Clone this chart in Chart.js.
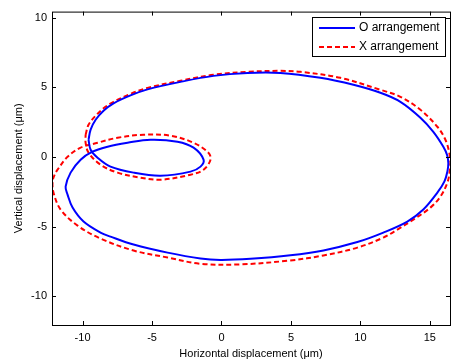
<!DOCTYPE html>
<html>
<head>
<meta charset="utf-8">
<script src="https://cdn.jsdelivr.net/npm/chart.js@4"></script>
<style>
  html, body { margin: 0; padding: 0; background: #fff; }
  #wrap { width: 463px; height: 361px; }
</style>
</head>
<body>
<div id="wrap"><canvas id="orbitChart"></canvas></div>
<script>
// traced orbit points (um), O arrangement
const oX = [-9.57, -9.42, -9.06, -8.49, -7.77, -6.55, -5.32, -2.95, -0.58, 1.87, 4.24, 7.12, 9.50, 11.44, 12.88, 14.32, 15.25, 15.97, 16.24, 16.33, 16.26, 16.05, 15.54, 14.53, 13.38, 11.65, 9.78, 7.34, 4.96, 2.09, -0.07, -1.51, -3.88, -6.33, -7.99, -8.71, -9.93, -10.72, -11.08, -11.22, -10.86, -10.14, -9.28, -8.20, -6.76, -5.11, -3.17, -2.01, -1.29, -1.51, -2.23, -4.39, -6.33, -7.99, -8.92, -9.42, -9.57]
const oY = [1.24, 1.96, 2.67, 3.32, 3.85, 4.42, 4.85, 5.39, 5.82, 6.03, 6.03, 5.68, 5.18, 4.61, 3.96, 2.82, 1.81, 0.74, 0.15, -0.45, -1.05, -1.75, -2.56, -3.77, -4.63, -5.42, -6.10, -6.70, -7.05, -7.30, -7.38, -7.28, -6.86, -6.28, -5.71, -5.42, -4.63, -3.63, -2.70, -2.13, -1.12, -0.19, 0.38, 0.74, 1.02, 1.24, 1.10, 0.67, -0.19, -0.69, -1.05, -1.34, -1.12, -0.69, -0.05, 0.52, 1.24]

// X arrangement
const xX = [-9.78, -9.57, -9.06, -8.35, -7.77, -6.55, -5.32, -2.95, -0.58, 1.87, 4.24, 5.68, 8.56, 11.44, 12.88, 14.32, 15.54, 16.12, 16.40, 16.48, 16.42, 16.26, 15.76, 15.04, 13.81, 12.66, 11.65, 9.78, 7.34, 4.96, 1.37, -1.51, -3.88, -6.33, -8.71, -10.36, -11.58, -12.09, -12.16, -12.01, -11.80, -11.08, -10.14, -8.92, -7.48, -5.61, -3.67, -2.01, -0.94, -0.79, -1.29, -2.23, -4.39, -5.83, -7.48, -8.71, -9.57, -9.78, -9.78]
const xY = [1.60, 2.31, 2.96, 3.60, 3.96, 4.53, 4.96, 5.47, 5.90, 6.11, 6.18, 6.11, 5.68, 4.82, 4.32, 3.39, 2.17, 1.24, 0.31, -0.40, -1.10, -1.84, -2.84, -3.63, -4.49, -5.21, -5.78, -6.50, -7.06, -7.42, -7.70, -7.66, -7.21, -6.71, -5.85, -4.92, -3.77, -2.56, -1.77, -1.27, -0.91, 0.02, 0.67, 1.02, 1.38, 1.60, 1.53, 1.02, 0.31, -0.19, -0.91, -1.27, -1.63, -1.48, -1.12, -0.55, 0.31, 1.02, 1.60]

const seriesNames = ['O arrangement', 'X arrangement']
const xTicks = [-10, -5, 0, 5, 10, 15]
const yTicks = [-10, -5, 0, 5, 10]

const FONT = "'Liberation Sans', Arial, sans-serif"
Chart.defaults.font.family = FONT
Chart.defaults.font.size = 11
Chart.defaults.color = '#000'

const toPoints = (xs, ys) => xs.map((x, i) => ({ x, y: ys[i] }))

// box + inward ticks + legend, matlab look
const matlabFrame = {
    id: 'matlabFrame',
    afterDraw(chart) {
        const { ctx, chartArea: a, scales } = chart
        ctx.save()
        ctx.strokeStyle = '#000'
        ctx.lineWidth = 1
        ctx.strokeRect(a.left + 0.5, a.top + 0.5, a.right - a.left, a.bottom - a.top)
        const t = 4
        ctx.beginPath()
        xTicks.forEach(v => {
            const px = Math.round(scales.x.getPixelForValue(v)) + 0.5
            ctx.moveTo(px, a.bottom); ctx.lineTo(px, a.bottom - t)
            ctx.moveTo(px, a.top); ctx.lineTo(px, a.top + t)
        })
        yTicks.forEach(v => {
            const py = Math.round(scales.y.getPixelForValue(v)) + 0.5
            ctx.moveTo(a.left, py); ctx.lineTo(a.left + t, py)
            ctx.moveTo(a.right, py); ctx.lineTo(a.right - t, py)
        })
        ctx.stroke()

        // legend
        const lx = 312, ly = 17, lw = 133, lh = 39
        ctx.fillStyle = '#fff'
        ctx.fillRect(lx, ly, lw, lh)
        ctx.strokeRect(lx + 0.5, ly + 0.5, lw, lh)
        ctx.font = '12px ' + FONT
        ctx.textBaseline = 'middle'
        chart.data.datasets.forEach((ds, i) => {
            const yy = ly + 11 + i * 19
            ctx.beginPath()
            ctx.strokeStyle = ds.borderColor
            ctx.lineWidth = ds.borderWidth
            ctx.setLineDash(ds.borderDash || [])
            ctx.moveTo(lx + 7, yy); ctx.lineTo(lx + 43, yy)
            ctx.stroke()
            ctx.setLineDash([])
            ctx.fillStyle = '#000'
            ctx.fillText(ds.label, lx + 47, yy)
        })
        ctx.restore()
    }
}

new Chart('orbitChart', {
    type: 'scatter',
    data: {
        datasets: [{
            label: seriesNames[0],
            data: toPoints(oX, oY),
            showLine: true,
            borderColor: '#0000ff',
            borderWidth: 2,
            tension: 0.35,
            pointRadius: 0
        }, {
            label: seriesNames[1],
            data: toPoints(xX, xY),
            showLine: true,
            borderColor: '#ff0000',
            borderWidth: 2,
            borderDash: [5, 3],
            tension: 0.35,
            pointRadius: 0
        }]
    },
    options: {
        responsive: true,
        maintainAspectRatio: false,
        animation: false,
        layout: { padding: { top: 11, right: 13, left: 0, bottom: 0 } },
        plugins: {
            legend: { display: false },
            tooltip: { enabled: false }
        },
        scales: {
            x: {
                type: 'linear',
                min: -12.2,
                max: 16.45,
                afterBuildTicks: s => { s.ticks = xTicks.map(v => ({ value: v })) },
                afterFit: s => { s.height = 36 },
                grid: { display: false, drawTicks: false },
                border: { display: false },
                ticks: { padding: 6, maxRotation: 0, font: { size: 11 } },
                title: { display: true, text: 'Horizontal displacement (μm)', padding: 0, font: { size: 11 } }
            },
            y: {
                type: 'linear',
                min: -12.05,
                max: 10.43,
                afterBuildTicks: s => { s.ticks = yTicks.map(v => ({ value: v })) },
                afterFit: s => { s.width = 52 },
                grid: { display: false, drawTicks: false },
                border: { display: false },
                ticks: { padding: 5, font: { size: 11 } },
                title: { display: true, text: 'Vertical displacement (μm)', padding: { top: 12, bottom: 0 }, font: { size: 11 } }
            }
        }
    },
    plugins: [matlabFrame]
})
</script>
</body>
</html>
